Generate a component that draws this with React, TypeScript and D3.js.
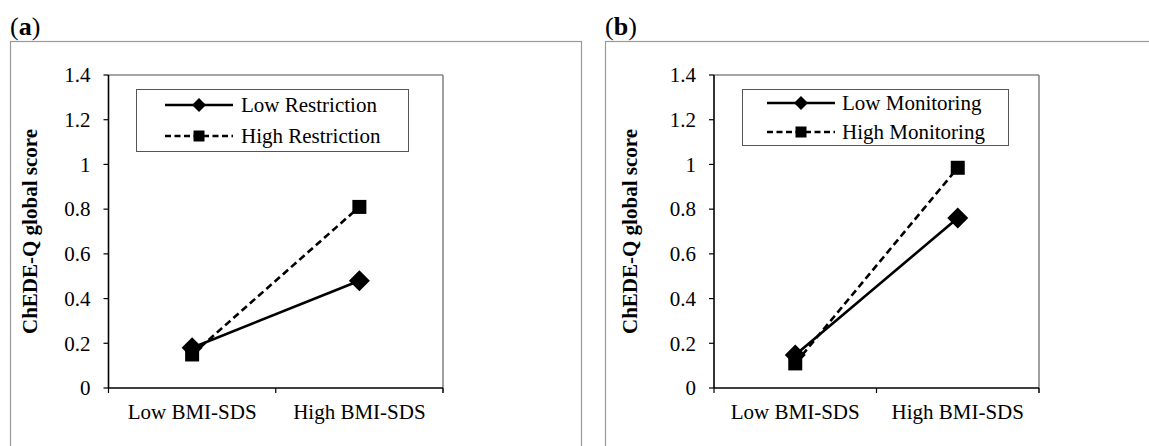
import React from "react";
import * as d3 from "d3";

const categories = ["Low BMI-SDS", "High BMI-SDS"];
const yTicks = [0, 0.2, 0.4, 0.6, 0.8, 1, 1.2, 1.4];
const yTickLabels = ["0", "0.2", "0.4", "0.6", "0.8", "1", "1.2", "1.4"];
const yLabel = "ChEDE-Q global score";

const panelATitle = "a";
const panelASeriesNames = ["Low Restriction", "High Restriction"];
const lowRestriction = [0.18, 0.48];
const highRestriction = [0.15, 0.81];

const panelBTitle = "b";
const panelBSeriesNames = ["Low Monitoring", "High Monitoring"];
const lowMonitoring = [0.148, 0.76];
const highMonitoring = [0.11, 0.985];

const FONT = "'Liberation Serif', 'Times New Roman', serif";

type PanelProps = {
  title: string;
  frame: { x: number; y: number; w: number; h: number };
  plot: { x0: number; x1: number; y0: number; y1: number };
  labelX: number;
  legend: { x: number; y: number; w: number; h: number; row1: number; row2: number; lx0: number; lx1: number; tx: number };
  names: string[];
  s1: number[];
  s2: number[];
};

function Diamond({ cx, cy, r }: { cx: number; cy: number; r: number }) {
  return <path d={`M${cx},${cy - r}L${cx + r},${cy}L${cx},${cy + r}L${cx - r},${cy}Z`} fill="#000" />;
}

function Square({ cx, cy, s }: { cx: number; cy: number; s: number }) {
  return <rect x={cx - s / 2} y={cy - s / 2} width={s} height={s} fill="#000" />;
}

function Panel({ title, frame, plot, labelX, legend, names, s1, s2 }: PanelProps) {
  const x = d3.scaleBand().domain(categories).range([plot.x0, plot.x1]);
  const y = d3.scaleLinear().domain([0, 1.4]).range([plot.y1, plot.y0]);
  const cx = (c: string) => (x(c) as number) + x.bandwidth() / 2;
  const line = d3
    .line<number>()
    .x((_, i) => cx(categories[i]))
    .y((d) => y(d));
  return (
    <g>
      <text x={frame.x - 0.5} y={frame.y - 7} fontFamily={FONT} fontSize={26} fill="#000">
        (<tspan fontWeight="bold">{title}</tspan>)
      </text>
      <rect x={frame.x} y={frame.y} width={frame.w} height={frame.h} fill="none" stroke="#9a9a9a" strokeWidth={1.2} />
      {/* plot area border */}
      <line x1={plot.x0} x2={plot.x1} y1={plot.y0} y2={plot.y0} stroke="#888" strokeWidth={1.6} />
      <line x1={plot.x1} x2={plot.x1} y1={plot.y0} y2={plot.y1 + 5} stroke="#888" strokeWidth={1.6} />
      {/* axes */}
      <line x1={plot.x0} x2={plot.x0} y1={plot.y0} y2={plot.y1} stroke="#000" strokeWidth={1.6} />
      <line x1={plot.x0} x2={plot.x1} y1={plot.y1} y2={plot.y1} stroke="#000" strokeWidth={1.6} />
      {yTicks.map((t, i) => (
        <g key={i}>
          <line x1={plot.x0 - 5} x2={plot.x0} y1={y(t)} y2={y(t)} stroke="#000" strokeWidth={1.2} />
          <text x={plot.x0 - 18} y={y(t)} dy="0.35em" textAnchor="end" fontFamily={FONT} fontSize={21} fill="#000">
            {yTickLabels[i]}
          </text>
        </g>
      ))}
      {[plot.x0, (x(categories[1]) as number), plot.x1].map((px, i) => (
        <line key={i} x1={px} x2={px} y1={plot.y1} y2={plot.y1 + 5} stroke="#000" strokeWidth={1.2} />
      ))}
      {categories.map((c) => (
        <text key={c} x={cx(c)} y={plot.y1 + 31} textAnchor="middle" fontFamily={FONT} fontSize={21} fill="#000">
          {c}
        </text>
      ))}
      <text
        transform={`translate(${labelX},${(plot.y0 + plot.y1) / 2}) rotate(-90)`}
        dy="0.35em"
        textAnchor="middle"
        fontFamily={FONT}
        fontSize={21}
        fontWeight="bold"
        fill="#000"
      >
        {yLabel}
      </text>
      {/* series */}
      <path d={line(s2) || ""} fill="none" stroke="#000" strokeWidth={2.6} strokeDasharray="7,4" />
      <path d={line(s1) || ""} fill="none" stroke="#000" strokeWidth={2.6} />
      {s2.map((v, i) => (
        <Square key={"s" + i} cx={cx(categories[i])} cy={y(v)} s={14} />
      ))}
      {s1.map((v, i) => (
        <Diamond key={"d" + i} cx={cx(categories[i])} cy={y(v)} r={10.5} />
      ))}
      {/* legend */}
      <rect x={legend.x} y={legend.y} width={legend.w} height={legend.h} fill="#fff" stroke="#555" strokeWidth={1} />
      <line x1={legend.lx0} x2={legend.lx1} y1={legend.row1} y2={legend.row1} stroke="#000" strokeWidth={2.6} />
      <Diamond cx={(legend.lx0 + legend.lx1) / 2} cy={legend.row1} r={7} />
      <text x={legend.tx} y={legend.row1} dy="0.35em" fontFamily={FONT} fontSize={21} fill="#000">
        {names[0]}
      </text>
      <line x1={legend.lx0} x2={legend.lx1} y1={legend.row2} y2={legend.row2} stroke="#000" strokeWidth={2.6} strokeDasharray="6,3.5" />
      <Square cx={(legend.lx0 + legend.lx1) / 2} cy={legend.row2} s={11} />
      <text x={legend.tx} y={legend.row2} dy="0.35em" fontFamily={FONT} fontSize={21} fill="#000">
        {names[1]}
      </text>
    </g>
  );
}

export default function App() {
  return (
    <svg width={1149} height={446} style={{ position: "absolute", left: 0, top: 0, background: "#fff" }}>
      <rect x={0} y={0} width={1149} height={446} fill="#fff" />
      <Panel
        title={panelATitle}
        frame={{ x: 10.5, y: 41.5, w: 571, h: 420 }}
        plot={{ x0: 108.5, x1: 443, y0: 75, y1: 388 }}
        labelX={30}
        legend={{ x: 136.5, y: 89.5, w: 272, h: 62, row1: 105, row2: 136, lx0: 165, lx1: 233, tx: 241 }}
        names={panelASeriesNames}
        s1={lowRestriction}
        s2={highRestriction}
      />
      <Panel
        title={panelBTitle}
        frame={{ x: 605.5, y: 41.5, w: 600, h: 420 }}
        plot={{ x0: 714, x1: 1039, y0: 75, y1: 388 }}
        labelX={630}
        legend={{ x: 742.5, y: 89.5, w: 266, h: 56, row1: 103, row2: 132, lx0: 767, lx1: 835, tx: 842 }}
        names={panelBSeriesNames}
        s1={lowMonitoring}
        s2={highMonitoring}
      />
    </svg>
  );
}
